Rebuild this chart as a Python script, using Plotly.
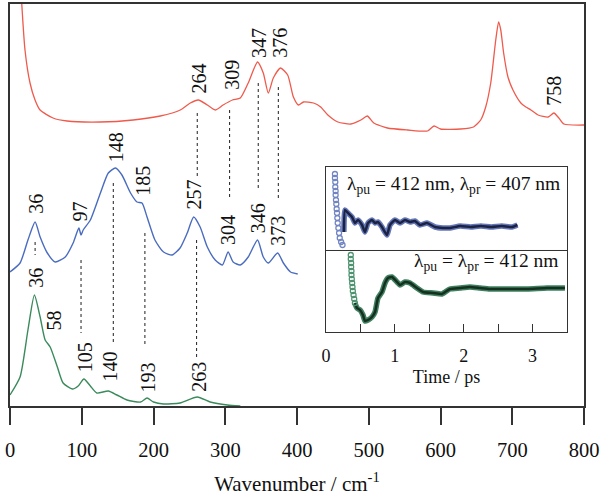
import plotly.graph_objects as go

# ---------------- main spectra (wavenumber / arbitrary intensity) ----------------
red_wn = [15, 20.9, 27.9, 34.9, 41.9, 60, 79.6, 125.7, 171.7, 209.4, 237.3, 251.3, 262.5, 275, 286,
          297, 310, 321, 332, 345, 353, 360, 367, 377, 387, 395, 402, 409, 423, 433, 443, 457, 475,
          489, 498, 507, 526, 554, 582, 591, 600, 628, 646, 656, 663, 670, 677, 681, 684, 688, 694,
          701, 712, 719, 726, 736, 750, 758, 765, 772, 800]
red_int = [420, 357, 324, 307, 297, 289, 286, 285, 287, 291, 297, 304, 307, 302, 297,
           302, 307, 309, 324, 345, 334, 314, 329, 339, 332, 310, 302, 305, 304, 300, 292, 285, 283,
           287, 291, 284, 279, 277, 276, 281, 278, 278, 280, 287, 300, 324, 367, 385, 377, 354, 330,
           317, 304, 300, 297, 292, 290, 294, 289, 283, 282]

blue_wn = [0, 14, 25, 35, 42, 52, 63, 77, 88, 96, 99, 102, 112, 126, 137, 147, 156, 168, 177, 184,
           191, 202, 214, 226, 237, 247, 256, 265, 275, 286, 296, 304, 311, 321, 332, 345, 353, 360,
           373, 381, 391, 401]
blue_int = [135, 144, 167, 185, 170, 154, 145, 150, 164, 179, 172, 177, 187, 214, 234, 239, 232, 214, 205, 204,
            190, 167, 155, 152, 159, 174, 190, 180, 160, 147, 142, 155, 145, 142, 150, 167, 150, 144,
            154, 144, 135, 133]

green_wn = [0, 14, 25, 34, 42, 49, 56, 66, 74, 87, 95, 103, 112, 121, 137, 149, 163, 182, 191, 200,
            214, 237, 261, 279, 303, 321]
green_int = [12, 30, 77, 112, 90, 67, 60, 40, 24, 18, 21, 28, 21, 14, 16, 12, 7, 5, 9, 5,
             3, 4, 10, 5, 2, 1]

# peak labels: text, wavenumber, label height
red_labels = ["264", "309", "347", "376", "758"]
red_label_wn = [264, 309, 347, 376, 758]
red_label_y = [329, 332, 364, 364, 316]

blue_labels = ["36", "97", "148", "185", "257", "304", "346", "373"]
blue_label_wn = [36, 97, 148, 185, 257, 304, 346, 373]
blue_label_y = [203, 195, 260, 226, 213, 177, 189, 176]

green_labels = ["36", "58", "105", "140", "193", "263"]
green_label_wn = [36, 62, 105, 140, 193, 263]
green_label_y = [129, 87, 50, 41, 30, 30]

# dotted correlation lines: wavenumber, upper end, lower end
link_wn = [261, 306, 346, 374, 35, 99, 144, 188, 260]
link_top = [294, 297, 324, 320, 165, 147, 224, 174, 167]
link_bot = [229, 209, 219, 207, 152, 74, 64, 60, 49]

# ---------------- inset kinetics (time / ps) ----------------
top_pts_t = [0.13, 0.13, 0.135, 0.135, 0.14, 0.14, 0.145, 0.15, 0.155, 0.16, 0.165, 0.17, 0.18, 0.19,
             0.20, 0.22, 0.24]
top_pts_y = [76, 72, 68, 63, 59, 55, 50, 46, 41, 37, 32, 27, 22, 17, 12, 8, 5]
top_fit_t = [0.26, 0.276, 0.319, 0.378, 0.421, 0.465, 0.523, 0.566, 0.61, 0.668, 0.712, 0.755, 0.813,
             0.886, 0.929, 1.002, 1.075, 1.147, 1.22, 1.292, 1.365, 1.467, 1.583, 1.699, 1.80, 1.95,
             2.1, 2.25, 2.4, 2.55, 2.7, 2.78]
top_fit_y = [18, 40, 37, 33, 27, 30, 25, 18, 27, 30, 27, 28, 23, 15, 25, 30, 27, 30, 28, 29, 25, 27,
             23, 22, 22, 24, 23, 24, 23, 24, 23, 25]

bot_pts_t = [0.36, 0.36, 0.365, 0.365, 0.37, 0.37, 0.375, 0.38, 0.385, 0.39, 0.40, 0.41, 0.42]
bot_pts_y = [77, 73, 69, 65, 61, 57, 53, 49, 45, 41, 37, 33, 29]
bot_fit_t = [0.421, 0.45, 0.494, 0.537, 0.566, 0.61, 0.668, 0.712, 0.755, 0.813, 0.857, 0.90, 0.958,
             1.031, 1.075, 1.147, 1.22, 1.32, 1.409, 1.554, 1.685, 1.80, 1.946, 2.091, 2.236, 2.382,
             2.629, 2.919, 3.21, 3.47]
bot_fit_y = [29, 24, 22, 17, 11, 12, 15, 20, 34, 40, 49, 54, 55, 50, 47, 50, 49, 44, 40, 39, 38, 43,
             44, 45, 44, 43, 43, 43, 44, 44]

wn_ticks = [0, 100, 200, 300, 400, 500, 600, 700, 800]
t_ticks = [0, 1, 2, 3]

FONT = "Liberation Serif"
RED, BLUE, GREEN = "#ef5a4c", "#4a6cbf", "#3a8a5c"

fig = go.Figure()
fig.add_trace(go.Scatter(x=red_wn, y=red_int, mode="lines", line=dict(color=RED, width=1.3, shape="spline", smoothing=0.6)))
fig.add_trace(go.Scatter(x=blue_wn, y=blue_int, mode="lines", line=dict(color=BLUE, width=1.4, shape="spline", smoothing=0.6)))
fig.add_trace(go.Scatter(x=green_wn, y=green_int, mode="lines", line=dict(color=GREEN, width=1.4, shape="spline", smoothing=0.6)))

# inset traces
fig.add_trace(go.Scatter(x=top_fit_t, y=top_fit_y, xaxis="x3", yaxis="y2", mode="lines",
                         line=dict(color="#6477b8", width=5.5, shape="spline", smoothing=0.5)))
fig.add_trace(go.Scatter(x=top_fit_t, y=top_fit_y, xaxis="x3", yaxis="y2", mode="lines",
                         line=dict(color="#1c2342", width=2.5, shape="spline", smoothing=0.5)))
fig.add_trace(go.Scatter(x=top_pts_t, y=top_pts_y, xaxis="x3", yaxis="y2", mode="markers",
                         marker=dict(symbol="circle-open", size=5, color="#7285c2", line=dict(width=1.3))))
fig.add_trace(go.Scatter(x=bot_fit_t, y=bot_fit_y, xaxis="x2", yaxis="y3", mode="lines",
                         line=dict(color="#3f8060", width=5.5, shape="spline", smoothing=0.5)))
fig.add_trace(go.Scatter(x=bot_fit_t, y=bot_fit_y, xaxis="x2", yaxis="y3", mode="lines",
                         line=dict(color="#16301f", width=2.5, shape="spline", smoothing=0.5)))
fig.add_trace(go.Scatter(x=bot_pts_t, y=bot_pts_y, xaxis="x2", yaxis="y3", mode="markers",
                         marker=dict(symbol="circle-open", size=5, color="#4f9370", line=dict(width=1.3))))

annotations = []
for labels, xs, ys in [(red_labels, red_label_wn, red_label_y),
                       (blue_labels, blue_label_wn, blue_label_y),
                       (green_labels, green_label_wn, green_label_y)]:
    for t, x, y in zip(labels, xs, ys):
        annotations.append(dict(x=x, y=y, xref="x", yref="y", text=t, textangle=-90, showarrow=False,
                                font=dict(family=FONT, size=20, color="#111")))

annotations.append(dict(x=3.43, y=65, xref="x3", yref="y2", xanchor="right", yanchor="middle",
                        text="λ<sub>pu</sub> = 412 nm, λ<sub>pr</sub> = 407 nm", showarrow=False,
                        font=dict(family=FONT, size=19.5, color="#111")))
annotations.append(dict(x=3.40, y=70, xref="x2", yref="y3", xanchor="right", yanchor="middle",
                        text="λ<sub>pu</sub> = λ<sub>pr</sub> = 412 nm", showarrow=False,
                        font=dict(family=FONT, size=19.5, color="#111")))

shapes = []
for x, y0, y1 in zip(link_wn, link_top, link_bot):
    shapes.append(dict(type="line", xref="x", yref="y", x0=x, x1=x, y0=y0, y1=y1,
                       line=dict(color="#333", width=1.1, dash="dot")))

AX = "#333"
fig.update_layout(
    template="none",
    width=601, height=496,
    margin=dict(l=10, r=17, t=4, b=90, autoexpand=False),
    paper_bgcolor="white", plot_bgcolor="white",
    showlegend=False,
    font=dict(family=FONT, size=20, color="#111"),
    xaxis=dict(range=[0, 800], tickvals=wn_ticks, ticks="outside", ticklen=17, tickwidth=1.5,
               tickcolor=AX, showline=True, linecolor=AX, linewidth=1.5, mirror=True,
               showgrid=False, zeroline=False, automargin=False, ticklabelstandoff=8,
               tickfont=dict(family=FONT, size=20.5, color="#111"),
               title=dict(text="Wavenumber / cm<sup>-1</sup>", font=dict(family=FONT, size=21, color="#111"),
                          standoff=20)),
    yaxis=dict(range=[1, 403], showticklabels=False, ticks="", showline=True, linecolor=AX,
               linewidth=1.5, mirror=True, showgrid=False, zeroline=False, automargin=False),
    xaxis2=dict(domain=[0.5505, 0.9704], anchor="y3", range=[0, 3.5], tickvals=t_ticks,
                ticks="inside", ticklen=8, tickwidth=1.3, tickcolor=AX,
                minor=dict(dtick=0.5, ticks="inside", ticklen=8, tickwidth=1.3, tickcolor=AX),
                showline=True, linecolor=AX, linewidth=1.3, mirror=True, showgrid=False, zeroline=False,
                automargin=False, ticklabelstandoff=7, tickfont=dict(family=FONT, size=18, color="#111"),
                title=dict(text="Time / ps", font=dict(family=FONT, size=18, color="#111"), standoff=5)),
    xaxis3=dict(domain=[0.5505, 0.9704], anchor="y2", matches="x2", showticklabels=False, ticks="",
                showline=True, linecolor=AX, linewidth=1.3, mirror=True, showgrid=False, zeroline=False,
                automargin=False),
    yaxis2=dict(domain=[0.3881, 0.5945], anchor="x3", range=[0, 83], showticklabels=False, ticks="",
                showline=True, linecolor=AX, linewidth=1.3, mirror=True, showgrid=False, zeroline=False,
                automargin=False),
    yaxis3=dict(domain=[0.1841, 0.3881], anchor="x2", range=[0, 82], showticklabels=False, ticks="",
                showline=True, linecolor=AX, linewidth=1.3, mirror=True, showgrid=False, zeroline=False,
                automargin=False),
    annotations=annotations,
    shapes=shapes,
)

fig.write_html("out.html", config={"displayModeBar": False},
               post_script="document.body.style.margin='0px';")
